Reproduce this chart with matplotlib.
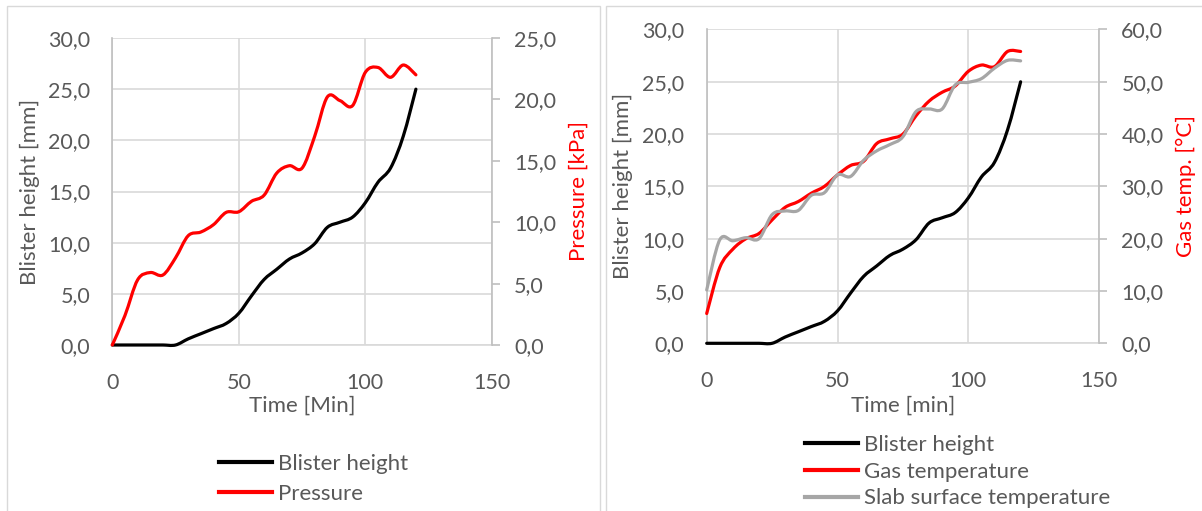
import matplotlib
matplotlib.use("Agg")
import matplotlib.pyplot as plt
from matplotlib.path import Path
from matplotlib.patches import PathPatch, Rectangle
from matplotlib.lines import Line2D
from matplotlib.ticker import FuncFormatter, MultipleLocator

# data (5 min steps)
time_min = [0, 5, 10, 15, 20, 25, 30, 35, 40, 45, 50, 55, 60,
            65, 70, 75, 80, 85, 90, 95, 100, 105, 110, 115, 120]
blister_mm = [0.0, 0.0, 0.0, 0.0, 0.0, 0.0, 0.6, 1.1, 1.6, 2.1, 3.1, 4.8, 6.4,
              7.4, 8.4, 9.0, 9.9, 11.5, 12.0, 12.5, 13.9, 15.9, 17.3, 20.4, 25.0]
pressure_kpa = [0.0, 2.4, 5.3, 5.9, 5.7, 7.1, 8.9, 9.2, 9.8, 10.8, 10.85, 11.7, 12.2,
                14.0, 14.6, 14.4, 17.0, 20.2, 19.9, 19.5, 22.2, 22.6, 21.8, 22.8, 22.0]
gas_temp = [5.7, 14.5, 18.0, 20.0, 21.0, 23.6, 26.0, 27.1, 28.7, 30.0, 32.2, 34.0, 34.8,
            38.2, 39.1, 40.0, 43.5, 46.3, 48.0, 49.2, 52.0, 53.2, 52.9, 55.8, 55.8]
slab_temp = [10.2, 19.8, 19.6, 20.2, 20.0, 24.6, 25.3, 25.4, 28.3, 28.8, 32.2, 31.9, 35.0,
             36.8, 38.0, 39.5, 44.3, 44.8, 44.8, 49.4, 49.9, 50.6, 52.6, 54.1, 54.0]

TXT = "#595959"
GRID = "#d9d9d9"
AXLINE = "#bfbfbf"
FS = 16      # axis titles, legend
TFS = 15.5   # tick labels

plt.rcParams["font.family"] = ["Lato", "DejaVu Sans"]


def smooth_path(x, y):
    # bezier through the points, like a smoothed spreadsheet line
    n = len(x)
    verts = [(x[0], y[0])]
    codes = [Path.MOVETO]
    for i in range(n - 1):
        xa, ya = (x[i - 1], y[i - 1]) if i > 0 else (x[i], y[i])
        xb, yb = (x[i + 2], y[i + 2]) if i + 2 < n else (x[i + 1], y[i + 1])
        c1 = (x[i] + (x[i + 1] - xa) / 6, y[i] + (y[i + 1] - ya) / 6)
        c2 = (x[i + 1] - (xb - x[i]) / 6, y[i + 1] - (yb - y[i]) / 6)
        verts += [c1, c2, (x[i + 1], y[i + 1])]
        codes += [Path.CURVE4] * 3
    return Path(verts, codes)


def draw_series(ax, x, y, color):
    patch = PathPatch(smooth_path(x, y), fill=False, edgecolor=color, lw=2.3,
                      capstyle="round", joinstyle="round", clip_on=False, zorder=3)
    ax.add_patch(patch)


comma = FuncFormatter(lambda v, p: f"{v:.1f}".replace(".", ","))


def setup(ax, ax2, y2max, y2step):
    ax.set_xlim(0, 150)
    ax.set_ylim(0, 30)
    ax.xaxis.set_major_locator(MultipleLocator(50))
    ax.yaxis.set_major_locator(MultipleLocator(5))
    ax.yaxis.set_major_formatter(comma)
    ax.grid(True, color=GRID, lw=1.2)
    ax.set_axisbelow(True)
    for s in ["top", "right"]:
        ax.spines[s].set_visible(False)
    ax.spines["left"].set_color(AXLINE)
    ax.spines["bottom"].set_color(GRID)
    ax.spines["left"].set_linewidth(1.2)
    ax.spines["bottom"].set_linewidth(1.2)
    ax.tick_params(axis="both", length=0, labelsize=TFS, labelcolor=TXT)
    ax.tick_params(axis="y", pad=16)
    ax.tick_params(axis="x", pad=20)

    ax2.set_ylim(0, y2max)
    ax2.yaxis.set_major_locator(MultipleLocator(y2step))
    ax2.yaxis.set_major_formatter(comma)
    for s in ["top", "left", "bottom"]:
        ax2.spines[s].set_visible(False)
    ax2.spines["right"].set_color(AXLINE)
    ax2.spines["right"].set_linewidth(1.2)
    ax2.tick_params(axis="y", length=6, width=1.2, color=AXLINE, direction="out",
                    labelsize=TFS, labelcolor=TXT, pad=10)


fig = plt.figure(figsize=(12.02, 5.11), dpi=100)

# panel frames
fig.add_artist(Rectangle((7 / 1202, -0.1), (600 - 7) / 1202, 1.1 - 6 / 511,
                         transform=fig.transFigure, fill=False, edgecolor=GRID, lw=1))
fig.add_artist(Rectangle((606 / 1202, -0.1), 0.6, 1.1 - 6 / 511,
                         transform=fig.transFigure, fill=False, edgecolor=GRID, lw=1))

# left chart: blister height and pressure
axL = fig.add_axes([112.3 / 1202, 166 / 511, 379.5 / 1202, 307 / 511])
axL2 = axL.twinx()
setup(axL, axL2, 25, 5)
draw_series(axL, time_min, blister_mm, "black")
draw_series(axL2, time_min, pressure_kpa, "red")
axL.set_xlabel("Time [Min]", fontsize=FS, color=TXT, labelpad=2)
axL.set_ylabel("Blister height [mm]", fontsize=FS, color=TXT, labelpad=6)
axL2.set_ylabel("Pressure [kPa]", fontsize=FS, color="red", labelpad=9)

legL = [Line2D([], [], color="black", lw=3), Line2D([], [], color="red", lw=3)]
fig.legend(legL, ["Blister height", "Pressure"], loc="upper left",
           bbox_to_anchor=(219 / 1202, 1 - 454 / 511), frameon=False, fontsize=FS,
           labelcolor=TXT, handlelength=2.4, handletextpad=0.25,
           labelspacing=0.45, borderpad=0, borderaxespad=0)

# right chart: blister height and temperatures
axR = fig.add_axes([706.7 / 1202, 167.7 / 511, 392.4 / 1202, 313.8 / 511])
axR2 = axR.twinx()
setup(axR, axR2, 60, 10)
draw_series(axR, time_min, blister_mm, "black")
draw_series(axR2, time_min, gas_temp, "red")
draw_series(axR2, time_min, slab_temp, "#a6a6a6")
axR.set_xlabel("Time [min]", fontsize=FS, color=TXT, labelpad=3)
axR.set_ylabel("Blister height [mm]", fontsize=FS, color=TXT, labelpad=7)
axR2.set_ylabel("Gas temp. [°C]", fontsize=FS, color="red", labelpad=9)

legR = [Line2D([], [], color="black", lw=3), Line2D([], [], color="red", lw=3),
        Line2D([], [], color="#a6a6a6", lw=3)]
fig.legend(legR, ["Blister height", "Gas temperature", "Slab surface temperature"],
           loc="upper left", bbox_to_anchor=(805 / 1202, 1 - 435 / 511), frameon=False,
           fontsize=FS, labelcolor=TXT, handlelength=2.4, handletextpad=0.25,
           labelspacing=0.3, borderpad=0, borderaxespad=0)

fig.savefig("out.png", dpi=100)
